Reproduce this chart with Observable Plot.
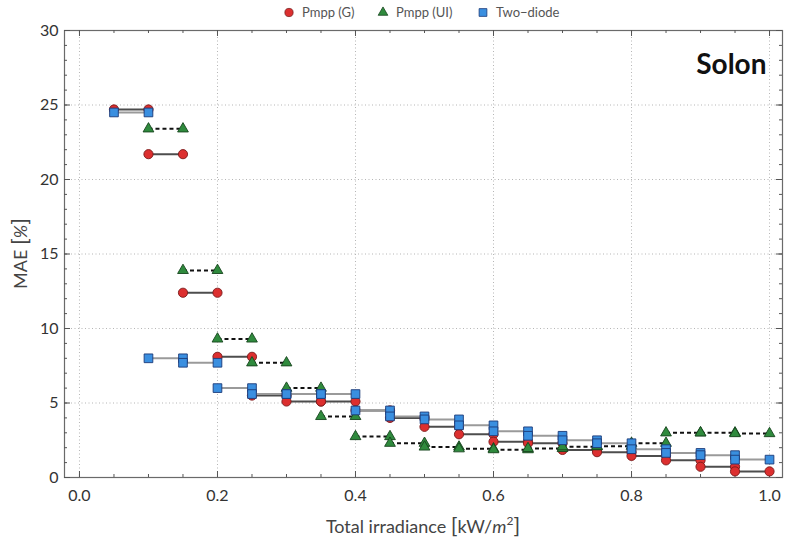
<!DOCTYPE html>
<html><head><meta charset="utf-8">
<script src="https://cdn.jsdelivr.net/npm/d3@7"></script>
<script src="https://cdn.jsdelivr.net/npm/@observablehq/plot@0.6"></script>
<style>
body{margin:0;background:#fff;font-family:Lato,"Open Sans",sans-serif;}
#legend{height:14px;position:relative;z-index:2;font-size:13px;color:#555;}
#legend .item{position:absolute;top:4px;display:flex;align-items:center;gap:7px;white-space:nowrap;}
#chart svg{display:block;}
</style></head><body>
<div id="legend"></div>
<div id="chart"></div>
<script>
// ---- data ----
const binStart = [0.05,0.10,0.15,0.20,0.25,0.30,0.35,0.40,0.45,0.50,0.55,0.60,0.65,0.70,0.75,0.80,0.85,0.90,0.95];
const binWidth = 0.05;
const pmppG    = [24.7,21.7,12.4,8.1,5.5,5.1,5.1,4.5,4.0,3.4,2.9,2.4,2.3,1.85,1.7,1.45,1.15,0.72,0.41];
const pmppUI   = [null,23.4,13.9,9.3,7.7,6.0,4.1,2.75,2.3,2.05,1.93,1.87,1.95,2.07,2.1,2.3,3.0,3.0,2.95];
const twoDiode = [24.5,8.0,7.7,6.0,5.6,5.6,5.6,4.5,4.1,3.9,3.5,3.1,2.8,2.5,2.3,1.9,1.65,1.5,1.2];
const seriesNames = ["Pmpp (G)","Pmpp (UI)","Two\u2212diode"];
const xTickLabels = [0,0.2,0.4,0.6,0.8,1.0];
const yTickLabels = [0,5,10,15,20,25,30];
const panelLabel = "Solon";

// ---- styles ----
const styles = [
  {symbol:"circle",   fill:"#dc2f2f", stroke:"#7a1a1a", r:4.6, line:"#4d4d4d", dash:null},
  {symbol:"triangle", fill:"#2f8a3d", stroke:"#17451e", r:4.0, line:"#111",    dash:"4,3"},
  {symbol:"square",   fill:"#3a8fe0", stroke:"#1b3a78", r:4.9, line:"#9a9a9a", dash:null}
];
const allSeries = [pmppG, pmppUI, twoDiode];

function segs(vals, name){
  const out=[];
  vals.forEach((v,i)=>{ if(v!=null) out.push({series:name,x1:binStart[i],x2:binStart[i]+binWidth,y:v}); });
  return out;
}
function pts(vals, name){
  const out=[];
  segs(vals,name).forEach(s=>{ out.push({series:name,x:s.x1,y:s.y}); out.push({series:name,x:s.x2,y:s.y}); });
  return out;
}

const W=785, H=528, mT=16, mB=65, mL=64, mR=3;
const innerH=H-mT-mB, innerW=W-mL-mR;
const minorX=d3.range(0,1.0001,0.05);
const minorY=d3.range(1,30,1);
const xGrid=xTickLabels, yGrid=yTickLabels.slice(1,-1);

const marks=[
  Plot.ruleX(xGrid,{stroke:"#b5b5b5",strokeDasharray:"1,2.5"}),
  Plot.ruleY(yGrid,{stroke:"#b5b5b5",strokeDasharray:"1,2.5"}),
  Plot.frame({stroke:"#6a6a6a",strokeWidth:1.2}),
  Plot.ruleX(minorX,{insetTop:innerH-3,stroke:"#555"}),
  Plot.ruleX(minorX,{insetBottom:innerH-3,stroke:"#555"}),
  Plot.ruleX(xTickLabels,{insetTop:innerH-6,stroke:"#555"}),
  Plot.ruleX(xTickLabels,{insetBottom:innerH-6,stroke:"#555"}),
  Plot.ruleY(minorY,{insetRight:innerW-3,stroke:"#555"}),
  Plot.ruleY(minorY,{insetLeft:innerW-3,stroke:"#555"}),
  Plot.ruleY(yTickLabels,{insetRight:innerW-6,stroke:"#555"}),
  Plot.ruleY(yTickLabels,{insetLeft:innerW-6,stroke:"#555"}),
];
allSeries.forEach((vals,k)=>{
  const s=styles[k];
  marks.push(Plot.link(segs(vals,seriesNames[k]),{x1:"x1",x2:"x2",y1:"y",y2:"y",stroke:s.line,strokeWidth:2,strokeDasharray:s.dash}));
  marks.push(Plot.dot(pts(vals,seriesNames[k]),{x:"x",y:"y",symbol:()=>s.symbol,r:s.r,fill:s.fill,stroke:s.stroke,strokeWidth:0.9}));
});
marks.push(
  Plot.axisX({ticks:xTickLabels,tickSize:0,tickPadding:12,fontSize:16,fill:"#333",tickFormat:d=>d.toFixed(1),label:null}),
  Plot.axisY({ticks:yTickLabels,tickSize:0,tickPadding:6,fontSize:16,fill:"#333",label:null}),
  Plot.text([panelLabel],{frameAnchor:"top-right",dx:-16,dy:24,fontSize:28,fontWeight:"bold",fill:"#111",text:d=>d})
);

const chart=Plot.plot({
  width:W,height:H,marginTop:mT,marginBottom:mB,marginLeft:mL,marginRight:mR,
  style:{fontFamily:"Lato, 'Open Sans', sans-serif",background:"transparent"},
  x:{domain:[-0.0217,1.0188]},
  y:{domain:[0,30]},
  symbol:{type:"identity"},
  marks
});
document.getElementById("chart").appendChild(chart);

// axis titles with italic parts
const svg=d3.select(chart);
const xt=svg.append("text").attr("x",mL+innerW/2).attr("y",H-9).attr("text-anchor","middle")
  .attr("font-size",18).attr("fill","#444").attr("font-family","Lato, 'Open Sans', sans-serif");
xt.append("tspan").text("Total irradiance ");
xt.append("tspan").attr("font-size",22).text("[");
xt.append("tspan").text("kW/");
xt.append("tspan").attr("font-style","italic").text("m");
xt.append("tspan").attr("font-size",12).attr("dy",-8).text("2");
xt.append("tspan").attr("font-size",22).attr("dy",8).text("]");
const yt=svg.append("text").attr("transform",`translate(27,${mT+innerH/2}) rotate(-90)`).attr("text-anchor","middle")
  .attr("font-size",18).attr("fill","#444").attr("font-family","Lato, 'Open Sans', sans-serif");
yt.append("tspan").text("MAE ");
yt.append("tspan").attr("font-size",22).text("[");
yt.append("tspan").attr("font-style","italic").text("%");
yt.append("tspan").attr("font-size",22).text("]");

// legend
const legend=document.getElementById("legend");
const legendX=[283,377,477];
seriesNames.forEach((name,k)=>{
  const s=styles[k];
  const item=document.createElement("div");
  item.className="item"; item.style.left=legendX[k]+"px";
  const sv=d3.create("svg").attr("width",12).attr("height",12);
  const sym={circle:d3.symbolCircle,triangle:d3.symbolTriangle,square:d3.symbolSquare}[s.symbol];
  sv.append("path").attr("transform","translate(6,6.5)").attr("d",d3.symbol(sym,Math.PI*s.r*s.r*0.8)())
    .attr("fill",s.fill).attr("stroke",s.stroke).attr("stroke-width",0.8);
  item.appendChild(sv.node());
  const t=document.createElement("span"); t.textContent=name; item.appendChild(t);
  legend.appendChild(item);
});
</script>
</body></html>
